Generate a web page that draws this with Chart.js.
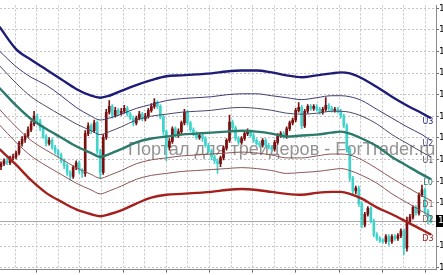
<!DOCTYPE html>
<html>
<head>
<meta charset="utf-8">
<script src="https://cdn.jsdelivr.net/npm/chart.js@4.4.1/dist/chart.umd.min.js"></script>
<style>
  html, body { margin: 0; padding: 0; background: #fff; overflow: hidden; }
  #wrap { width: 443px; height: 275px; }
</style>
</head>
<body>
<div id="wrap"><canvas id="priceChart" width="443" height="275"></canvas></div>
<script>
// Candles, one entry per bar (bar index = position on the time axis)
const barOpen = [
  1.3268,1.3274,1.3280,1.3276,1.3286,1.3288,1.3296,1.3316,1.3324,1.3332,
  1.3344,1.3356,1.3372,1.3362,1.3348,1.3330,1.3316,1.3322,1.3308,1.3300,
  1.3292,1.3280,1.3270,1.3256,1.3248,1.3266,1.3276,1.3260,1.3254,1.3336,
  1.3352,1.3342,1.3358,1.3300,1.3256,1.3328,1.3380,1.3392,1.3374,1.3384,
  1.3378,1.3382,1.3388,1.3376,1.3368,1.3358,1.3368,1.3376,1.3366,1.3372,
  1.3384,1.3392,1.3400,1.3392,1.3370,1.3340,1.3308,1.3320,1.3346,1.3332,
  1.3340,1.3358,1.3380,1.3358,1.3344,1.3336,1.3328,1.3332,1.3326,1.3312,
  1.3300,1.3288,1.3280,1.3274,1.3286,1.3306,1.3322,1.3360,1.3348,1.3326,
  1.3318,1.3326,1.3336,1.3340,1.3332,1.3322,1.3316,1.3312,1.3322,1.3312,
  1.3308,1.3304,1.3318,1.3332,1.3336,1.3330,1.3346,1.3358,1.3364,1.3384,
  1.3390,1.3352,1.3382,1.3392,1.3388,1.3392,1.3386,1.3380,1.3386,1.3394,
  1.3388,1.3384,1.3386,1.3382,1.3372,1.3352,1.3304,1.3244,1.3218,1.3224,
  1.3192,1.3148,1.3170,1.3182,1.3156,1.3128,1.3120,1.3116,1.3114,1.3124,
  1.3114,1.3124,1.3120,1.3126,1.3136,1.3100,1.3156,1.3164,1.3184,1.3172,
  1.3210,1.3220,1.3176,1.3164
];
const barHigh = [
  1.3278,1.3284,1.3286,1.3290,1.3294,1.3300,1.3320,1.3330,1.3336,1.3350,
  1.3362,1.3382,1.3376,1.3366,1.3352,1.3334,1.3328,1.3326,1.3312,1.3304,
  1.3296,1.3284,1.3274,1.3260,1.3270,1.3280,1.3280,1.3264,1.3342,1.3358,
  1.3356,1.3364,1.3362,1.3304,1.3334,1.3386,1.3404,1.3396,1.3390,1.3388,
  1.3388,1.3394,1.3392,1.3380,1.3372,1.3372,1.3382,1.3380,1.3378,1.3388,
  1.3398,1.3408,1.3404,1.3396,1.3374,1.3344,1.3326,1.3350,1.3350,1.3346,
  1.3362,1.3386,1.3384,1.3362,1.3348,1.3340,1.3336,1.3336,1.3330,1.3316,
  1.3304,1.3292,1.3284,1.3290,1.3310,1.3326,1.3374,1.3364,1.3352,1.3330,
  1.3330,1.3340,1.3346,1.3344,1.3336,1.3326,1.3320,1.3326,1.3326,1.3316,
  1.3312,1.3322,1.3336,1.3340,1.3340,1.3350,1.3362,1.3368,1.3388,1.3400,
  1.3394,1.3386,1.3396,1.3396,1.3396,1.3396,1.3390,1.3390,1.3410,1.3398,
  1.3392,1.3390,1.3390,1.3386,1.3376,1.3356,1.3308,1.3248,1.3228,1.3228,
  1.3196,1.3174,1.3186,1.3186,1.3160,1.3132,1.3124,1.3120,1.3128,1.3128,
  1.3128,1.3128,1.3130,1.3140,1.3140,1.3164,1.3170,1.3188,1.3188,1.3214,
  1.3230,1.3224,1.3180,1.3168
];
const barLow = [
  1.3262,1.3270,1.3272,1.3272,1.3282,1.3284,1.3292,1.3310,1.3318,1.3328,
  1.3340,1.3352,1.3358,1.3342,1.3326,1.3310,1.3312,1.3304,1.3294,1.3288,
  1.3276,1.3264,1.3250,1.3240,1.3244,1.3262,1.3254,1.3246,1.3248,1.3332,
  1.3336,1.3338,1.3294,1.3244,1.3252,1.3324,1.3376,1.3368,1.3370,1.3374,
  1.3374,1.3378,1.3372,1.3364,1.3352,1.3354,1.3364,1.3362,1.3362,1.3368,
  1.3380,1.3388,1.3388,1.3366,1.3334,1.3280,1.3302,1.3316,1.3328,1.3328,
  1.3336,1.3354,1.3354,1.3340,1.3332,1.3324,1.3324,1.3320,1.3308,1.3296,
  1.3282,1.3274,1.3254,1.3268,1.3282,1.3302,1.3318,1.3344,1.3322,1.3314,
  1.3314,1.3322,1.3332,1.3328,1.3318,1.3312,1.3308,1.3308,1.3308,1.3304,
  1.3300,1.3300,1.3314,1.3328,1.3326,1.3326,1.3342,1.3354,1.3360,1.3380,
  1.3346,1.3348,1.3378,1.3384,1.3384,1.3382,1.3376,1.3376,1.3382,1.3384,
  1.3380,1.3380,1.3378,1.3368,1.3348,1.3298,1.3238,1.3212,1.3212,1.3186,
  1.3142,1.3144,1.3166,1.3152,1.3124,1.3116,1.3112,1.3110,1.3110,1.3106,
  1.3110,1.3116,1.3116,1.3122,1.3086,1.3094,1.3150,1.3160,1.3168,1.3168,
  1.3206,1.3170,1.3150,1.3152
];
const barClose = [
  1.3274,1.3280,1.3276,1.3286,1.3288,1.3296,1.3316,1.3324,1.3332,1.3344,
  1.3356,1.3372,1.3362,1.3348,1.3330,1.3316,1.3322,1.3308,1.3300,1.3292,
  1.3280,1.3270,1.3256,1.3248,1.3266,1.3276,1.3260,1.3254,1.3336,1.3352,
  1.3342,1.3358,1.3300,1.3256,1.3328,1.3380,1.3392,1.3374,1.3384,1.3378,
  1.3382,1.3388,1.3376,1.3368,1.3358,1.3368,1.3376,1.3366,1.3372,1.3384,
  1.3392,1.3400,1.3392,1.3370,1.3340,1.3308,1.3320,1.3346,1.3332,1.3340,
  1.3358,1.3380,1.3358,1.3344,1.3336,1.3328,1.3332,1.3326,1.3312,1.3300,
  1.3288,1.3280,1.3274,1.3286,1.3306,1.3322,1.3360,1.3348,1.3326,1.3318,
  1.3326,1.3336,1.3340,1.3332,1.3322,1.3316,1.3312,1.3322,1.3312,1.3308,
  1.3304,1.3318,1.3332,1.3336,1.3330,1.3346,1.3358,1.3364,1.3384,1.3390,
  1.3352,1.3382,1.3392,1.3388,1.3392,1.3386,1.3380,1.3386,1.3394,1.3388,
  1.3384,1.3386,1.3382,1.3372,1.3352,1.3304,1.3244,1.3218,1.3224,1.3192,
  1.3148,1.3170,1.3182,1.3156,1.3128,1.3120,1.3116,1.3114,1.3124,1.3114,
  1.3124,1.3120,1.3126,1.3136,1.3100,1.3156,1.3164,1.3184,1.3172,1.3210,
  1.3220,1.3176,1.3164,1.3156
];

// Band lines, read at these bar positions
const bandX  = [-0.5,5,10,15,20,25,30,33,36,40,45,50,55,60,65,70,75,80,85,90,95,100,105,110,113,116,120,125,130,135,140,143];
const bandU3 = [1.3556,1.3510,1.3488,1.3468,1.3448,1.3428,1.3414,1.3410,1.3414,1.3424,1.3436,1.3446,1.3454,1.3456,1.3458,1.3460,
                1.3464,1.3466,1.3466,1.3462,1.3456,1.3452,1.3456,1.3460,1.3462,1.3460,1.3450,1.3432,1.3412,1.3394,1.3378,1.3368];
const bandU2 = [1.3506,1.3474,1.3452,1.3436,1.3414,1.3390,1.3372,1.3364,1.3368,1.3376,1.3388,1.3396,1.3404,1.3408,1.3410,1.3412,
                1.3416,1.3418,1.3418,1.3414,1.3410,1.3406,1.3410,1.3414,1.3414,1.3412,1.3404,1.3386,1.3368,1.3350,1.3334,1.3322];
const bandU1 = [1.3476,1.3440,1.3412,1.3392,1.3374,1.3356,1.3342,1.3334,1.3340,1.3350,1.3364,1.3372,1.3376,1.3380,1.3382,1.3384,
                1.3388,1.3390,1.3388,1.3384,1.3378,1.3376,1.3378,1.3382,1.3382,1.3380,1.3372,1.3356,1.3334,1.3316,1.3298,1.3288];
const bandL0 = [1.3430,1.3394,1.3366,1.3346,1.3328,1.3310,1.3296,1.3288,1.3294,1.3304,1.3318,1.3326,1.3330,1.3334,1.3336,1.3338,
                1.3340,1.3342,1.3340,1.3336,1.3330,1.3332,1.3334,1.3338,1.3340,1.3336,1.3326,1.3310,1.3288,1.3270,1.3252,1.3242];
const bandD1 = [1.3386,1.3350,1.3322,1.3302,1.3284,1.3266,1.3252,1.3244,1.3250,1.3260,1.3274,1.3282,1.3286,1.3290,1.3292,1.3294,
                1.3296,1.3298,1.3296,1.3292,1.3286,1.3286,1.3290,1.3294,1.3294,1.3292,1.3282,1.3264,1.3244,1.3226,1.3208,1.3198];
const bandD2 = [1.3354,1.3318,1.3290,1.3270,1.3252,1.3234,1.3220,1.3212,1.3218,1.3228,1.3242,1.3250,1.3254,1.3258,1.3260,1.3262,
                1.3264,1.3266,1.3264,1.3260,1.3254,1.3256,1.3258,1.3262,1.3264,1.3260,1.3250,1.3234,1.3212,1.3194,1.3176,1.3166];
const bandD3 = [1.3304,1.3272,1.3240,1.3214,1.3196,1.3180,1.3170,1.3166,1.3170,1.3178,1.3192,1.3204,1.3210,1.3212,1.3214,1.3216,
                1.3220,1.3222,1.3220,1.3216,1.3212,1.3210,1.3214,1.3216,1.3216,1.3212,1.3202,1.3184,1.3170,1.3154,1.3138,1.3128];
const bandNames = ['U3', 'U2', 'U1', 'L0', 'D1', 'D2', 'D3'];

// Axis ticks: price levels on the right, time separators along the bottom
const yTickValues = [1.35940,1.35495,1.35050,1.34605,1.34160,1.33715,1.33270,1.32825,1.32380,1.31935,1.31490,1.31045,1.30600];
const xGridValues = [4.67,11.85,19.04,26.22,33.4,40.59,47.77,54.95,62.14,69.32,76.5,83.69,90.87,98.05,105.24,112.42,119.6,126.79,133.97,141.15];
const watermarkText = 'Портал для трейдеров - ForTrader.ru';

const BULL = '#7a0f0f';
const BEAR = '#3fd3cc';

function bandDataset(name, values, color, width) {
    return {
        type: 'line',
        label: name,
        data: values.map((v, k) => ({ x: bandX[k], y: v })),
        borderColor: color,
        borderWidth: width,
        pointRadius: 0,
        cubicInterpolationMode: 'monotone',
        fill: false,
        order: 1
    };
}

/**
 * Background text and bid line, drawn under the data
 */
const backdropPlugin = {
    id: 'backdrop',
    beforeDatasetsDraw(chart) {
        const { ctx, chartArea, scales } = chart;
        ctx.save();
        // watermark
        let size = 20;
        ctx.font = size + 'px "Liberation Sans", Arial, sans-serif';
        size = size * 308 / ctx.measureText(watermarkText).width;
        ctx.font = size.toFixed(1) + 'px "Liberation Sans", Arial, sans-serif';
        ctx.fillStyle = '#939393';
        ctx.textBaseline = 'alphabetic';
        ctx.fillText(watermarkText, 128, 155);
        // bid line
        const yBid = Math.round(scales.y.getPixelForValue(barClose[barClose.length - 1])) + 0.5;
        ctx.strokeStyle = '#a8a8a8';
        ctx.lineWidth = 1;
        ctx.beginPath();
        ctx.moveTo(chartArea.left, yBid);
        ctx.lineTo(chartArea.right, yBid);
        ctx.stroke();
        ctx.restore();
    }
};

/**
 * Band names at line ends and the current price box on the axis
 */
const labelsPlugin = {
    id: 'endLabels',
    afterDraw(chart) {
        const { ctx, chartArea, scales } = chart;
        ctx.save();
        ctx.font = '8px "DejaVu Sans", sans-serif';
        ctx.textAlign = 'center';
        ctx.textBaseline = 'middle';
        chart.data.datasets.forEach(ds => {
            if (!bandNames.includes(ds.label)) return;
            const last = ds.data[ds.data.length - 1];
            const x = scales.x.getPixelForValue(last.x);
            const y = scales.y.getPixelForValue(last.y);
            ctx.fillStyle = ds.borderColor;
            ctx.fillText(ds.label, x - 3, y + 4);
        });
        // price box
        const bid = barClose[barClose.length - 1];
        const yBid = Math.round(scales.y.getPixelForValue(bid));
        ctx.fillStyle = '#000';
        ctx.fillRect(chartArea.right, yBid - 6, 20, 12);
        ctx.fillStyle = '#fff';
        ctx.textAlign = 'left';
        ctx.font = '9px "DejaVu Sans", sans-serif';
        ctx.fillText(bid.toFixed(5), chartArea.right + 2, yBid);
        ctx.restore();
    }
};

function initializeChart() {
    const canvas = document.getElementById('priceChart');
    if (!canvas || typeof Chart === 'undefined') {
        console.warn('Chart.js not loaded or canvas not found');
        return;
    }

    const candleColors = barClose.map((c, i) => (c >= barOpen[i] ? BULL : BEAR));

    new Chart(canvas.getContext('2d'), {
        type: 'line',
        data: {
            datasets: [
                bandDataset('U3', bandU3, '#1d1d78', 2.4),
                bandDataset('U2', bandU2, '#3b3b74', 1),
                bandDataset('U1', bandU1, '#4a4a66', 1),
                bandDataset('L0', bandL0, '#2b7a6c', 2.4),
                bandDataset('D1', bandD1, '#8c5656', 1),
                bandDataset('D2', bandD2, '#8c5656', 1),
                bandDataset('D3', bandD3, '#a3201c', 2.4),
                {
                    type: 'bar',
                    label: 'wick',
                    data: barLow.map((l, i) => ({ x: i, y: [l, barHigh[i]] })),
                    backgroundColor: candleColors,
                    barThickness: 1,
                    grouped: false,
                    order: 3
                },
                {
                    type: 'bar',
                    label: 'body',
                    data: barOpen.map((o, i) => ({ x: i, y: [o, barClose[i]] })),
                    backgroundColor: candleColors,
                    barThickness: 2,
                    minBarLength: 1,
                    grouped: false,
                    order: 2
                }
            ]
        },
        options: {
            responsive: false,
            animation: false,
            events: [],
            layout: { padding: 0 },
            plugins: {
                legend: { display: false },
                tooltip: { enabled: false }
            },
            scales: {
                x: {
                    type: 'linear',
                    position: 'bottom',
                    min: -1 / 3,
                    max: 145 - 1 / 3,
                    offset: false,
                    afterBuildTicks: scale => {
                        scale.ticks = xGridValues.map(v => ({ value: v }));
                    },
                    afterFit: scale => { scale.height = 3; },
                    ticks: { display: false },
                    grid: {
                        color: '#c4c4c4',
                        offset: false,
                        tickLength: 3,
                        tickColor: ctx => (ctx.index % 2 === 1 ? '#6a6a6a' : 'rgba(0,0,0,0)')
                    },
                    border: { color: '#8a8a8a', width: 1, dash: [2, 2] }
                },
                y: {
                    type: 'linear',
                    position: 'right',
                    min: 1.3056,
                    max: 1.3600,
                    afterBuildTicks: scale => {
                        scale.ticks = yTickValues.map(v => ({ value: v }));
                    },
                    afterFit: scale => { scale.width = 7; },
                    ticks: {
                        autoSkip: false,
                        padding: 0,
                        color: '#000',
                        font: { family: '"DejaVu Sans", sans-serif', size: 9 },
                        callback: value => value.toFixed(5)
                    },
                    grid: {
                        color: '#c4c4c4',
                        tickLength: 3,
                        tickColor: '#6a6a6a'
                    },
                    border: { color: '#8a8a8a', width: 1, dash: [2, 2] }
                }
            }
        },
        plugins: [backdropPlugin, labelsPlugin]
    });
}

document.addEventListener('DOMContentLoaded', initializeChart);
</script>
</body>
</html>
